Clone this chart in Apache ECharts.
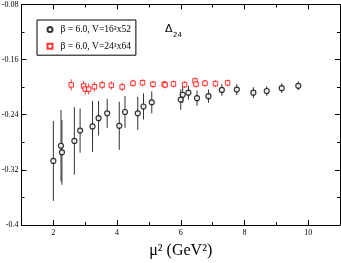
<!DOCTYPE html>
<html><head><meta charset="utf-8">
<script src="https://cdn.jsdelivr.net/npm/echarts@6/dist/echarts.min.js"></script>
<style>html,body{margin:0;padding:0;background:#fff}#c{width:341px;height:263px}</style>
</head><body><div id="c"></div>
<script>
const circleX = [2.00, 2.24, 2.27, 2.66, 2.84, 3.23, 3.42, 3.69, 4.07, 4.25, 4.65, 4.83, 5.09, 6.00, 6.06, 6.24, 6.51, 6.87, 7.29, 7.76, 8.28, 8.70, 9.17, 9.69];
const circleY = [-0.307, -0.285, -0.2945, -0.278, -0.263, -0.257, -0.245, -0.238, -0.256, -0.236, -0.238, -0.228, -0.222, -0.218, -0.211, -0.208, -0.216, -0.213, -0.204, -0.2035, -0.208, -0.2055, -0.2015, -0.198];
const circleErr = [0.058, 0.052, 0.047, 0.049, 0.032, 0.037, 0.025, 0.021, 0.035, 0.023, 0.024, 0.019, 0.016, 0.015, 0.012, 0.010, 0.011, 0.0097, 0.0085, 0.008, 0.008, 0.007, 0.007, 0.0063];
const squareX = [2.56, 2.95, 3.00, 3.11, 3.29, 3.53, 3.82, 4.16, 4.50, 4.80, 5.13, 5.48, 5.51, 5.77, 6.12, 6.45, 6.48, 6.76, 7.09, 7.47];
const squareY = [-0.1966, -0.1982, -0.2028, -0.2028, -0.1993, -0.1967, -0.1974, -0.1996, -0.1942, -0.1935, -0.1958, -0.1957, -0.1967, -0.1953, -0.1963, -0.1909, -0.1956, -0.1942, -0.1948, -0.1938];
const squareErr = [0.008, 0.007, 0.008, 0.008, 0.007, 0.006, 0.006, 0.006, 0.005, 0.005, 0.005, 0.005, 0.005, 0.005, 0.005, 0.005, 0.005, 0.005, 0.005, 0.005];
const xMajorTicks = [2, 4, 6, 8, 10];
const xMinorTicks = [3, 5, 7, 9];
const yMajorTicks = [-0.4, -0.32, -0.24, -0.16, -0.08];
const yMinorTicks = [-0.36, -0.28, -0.2, -0.12];
const seriesNames = ['\u03b2 = 6.0, V=16\u00b3x52', '\u03b2 = 6.0, V=24\u00b3x64'];
const xTitle = '\u03bc\u00b2 (GeV\u00b2)';
const annotation = ['\u0394', '24'];

const serif = 'Liberation Serif';
const chart = echarts.init(document.getElementById('c'), null, {renderer: 'canvas'});

function mkX(pos, ticks, len, showLine, showLabel) {
  return {
    type: 'value', min: 1, max: 11, position: pos,
    axisLine: {show: showLine, lineStyle: {color: '#000', width: 1}},
    axisTick: {show: true, inside: true, length: len, customValues: ticks, lineStyle: {color: '#000', width: 1}},
    axisLabel: {show: showLabel, customValues: ticks, margin: 4, fontSize: 8, fontFamily: serif, color: '#000'},
    splitLine: {show: false}
  };
}
function mkY(pos, ticks, len, showLine, showLabel) {
  return {
    type: 'value', min: -0.4, max: -0.08, position: pos,
    axisLine: {show: showLine, lineStyle: {color: '#000', width: 1}},
    axisTick: {show: true, inside: true, length: len, customValues: ticks, lineStyle: {color: '#000', width: 1}},
    axisLabel: {show: showLabel, customValues: ticks, margin: 3, fontSize: 8, fontFamily: serif, color: '#000',
      formatter: v => String(+(+v).toFixed(2))},
    splitLine: {show: false}
  };
}

function errSeries(xs, ys, es, color, w) {
  return {
    type: 'custom', name: 'err_' + color, xAxisIndex: 0, yAxisIndex: 0, silent: true, z: 1,
    data: xs.map((x, i) => [x, ys[i], es[i]]),
    renderItem: (params, api) => {
      const x = api.value(0), y = api.value(1), e = api.value(2);
      const a = api.coord([x, y + e]), b = api.coord([x, y - e]);
      return {type: 'line', shape: {x1: a[0], y1: a[1], x2: b[0], y2: b[1]}, style: {stroke: color, lineWidth: w}};
    }
  };
}

const xAxisBottom = mkX('bottom', xMajorTicks, 5, true, true);
xAxisBottom.name = xTitle;
xAxisBottom.nameLocation = 'middle';
xAxisBottom.nameGap = 18;
xAxisBottom.nameTextStyle = {fontFamily: serif, fontSize: 16, color: '#000'};

chart.setOption({
  animation: false,
  grid: {left: 21.5, right: 1, top: 4.5, bottom: 38, outerBoundsMode: 'none', containLabel: false},
  xAxis: [
    xAxisBottom,
    mkX('bottom', xMinorTicks, 3, false, false),
    mkX('top', xMajorTicks, 5, true, false),
    mkX('top', xMinorTicks, 3, false, false)
  ],
  yAxis: [
    mkY('left', yMajorTicks, 5, true, true),
    mkY('left', yMinorTicks, 3, false, false),
    mkY('right', yMajorTicks, 5, true, false),
    mkY('right', yMinorTicks, 3, false, false)
  ],
  legend: {
    data: seriesNames, orient: 'vertical', left: 37, top: 20,
    padding: [4.5, 5, 4, 9.5], itemGap: 6.7, itemWidth: 5, itemHeight: 5,
    borderColor: '#000', borderWidth: 1, backgroundColor: '#fff',
    textStyle: {fontFamily: serif, fontSize: 9.5, color: '#000', lineHeight: 9, padding: [0, 0, 0, 3]},
    selectedMode: false
  },
  graphic: [
    {type: 'text', left: 165, top: 24, style: {text: annotation[0], fontFamily: 'DejaVu Sans', fontSize: 11, fill: '#000'}},
    {type: 'text', left: 173, top: 32, style: {text: annotation[1], fontFamily: 'DejaVu Sans', fontSize: 7, fill: '#000'}}
  ],
  series: [
    errSeries(circleX, circleY, circleErr, '#333', 1),
    errSeries(squareX, squareY, squareErr, '#ff0000', 0.8),
    {type: 'scatter', name: seriesNames[0], xAxisIndex: 0, yAxisIndex: 0, z: 3,
      symbol: 'circle', symbolSize: 5,
      itemStyle: {color: '#fff', borderColor: '#000', borderWidth: 1.2},
      data: circleX.map((x, i) => [x, circleY[i]])},
    {type: 'scatter', name: seriesNames[1], xAxisIndex: 0, yAxisIndex: 0, z: 3,
      symbol: 'rect', symbolSize: 4.5,
      itemStyle: {color: '#fff', borderColor: '#ff0000', borderWidth: 1},
      data: squareX.map((x, i) => [x, squareY[i]])}
  ]
});
</script></body></html>
